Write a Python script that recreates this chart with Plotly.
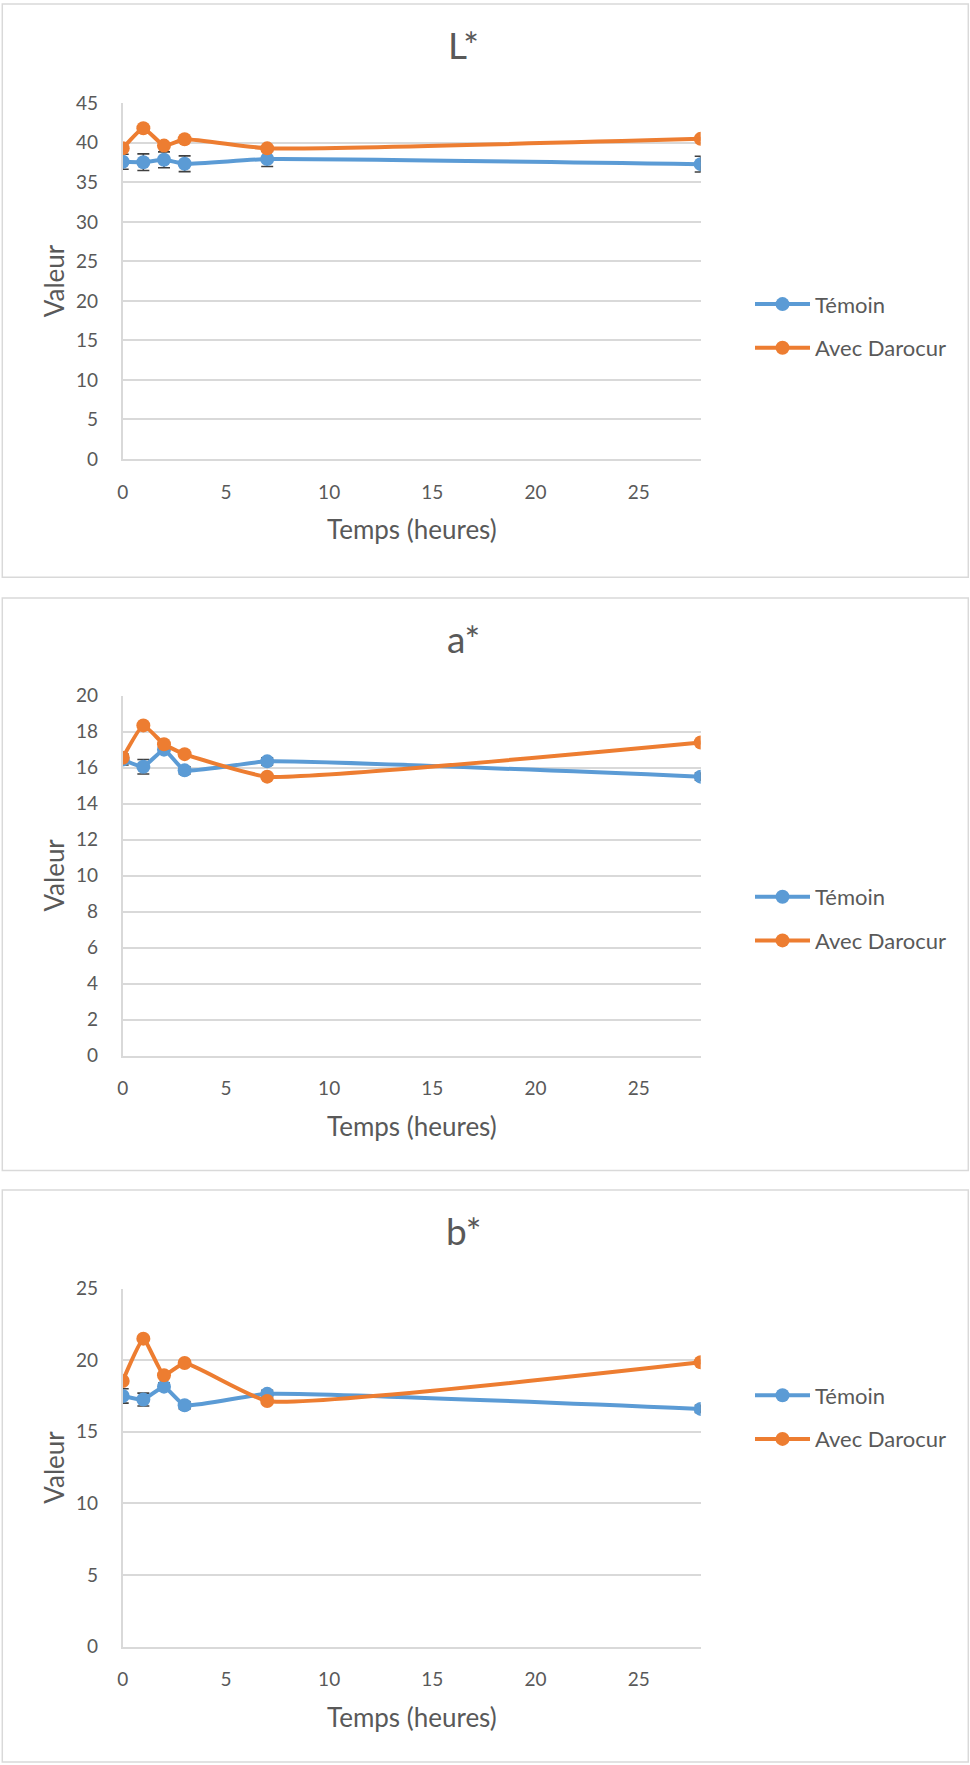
import plotly.graph_objects as go

# ---------------- data ----------------
hours = [0, 1, 2, 3, 7, 28]
series_names = ["Témoin", "Avec Darocur"]

L_temoin = [37.6, 37.55, 37.85, 37.35, 37.95, 37.3]
L_temoin_err = [0.95, 1.05, 1.0, 1.0, 0.95, 1.0]
L_darocur = [39.3, 41.85, 39.65, 40.45, 39.3, 40.5]

a_temoin = [16.45, 16.05, 17.0, 15.85, 16.35, 15.5]
a_temoin_err = [0.3, 0.4, 0.2, 0.2, 0.2, 0.2]
a_darocur = [16.55, 18.35, 17.3, 16.75, 15.5, 17.4]

b_temoin = [17.5, 17.25, 18.15, 16.85, 17.65, 16.6]
b_temoin_err = [0.5, 0.45, 0.25, 0.25, 0.25, 0.25]
b_darocur = [18.55, 21.5, 18.95, 19.8, 17.15, 19.85]

chart_titles = ["L*", "a*", "b*"]
y_max = [45, 20, 25]
y_dtick = [5, 2, 5]
x_max = 28
x_ticks = [0, 5, 10, 15, 20, 25]
x_title = "Temps (heures)"
y_title = "Valeur"

# ---------------- style / layout ----------------
W, H = 970, 1765
FONT = "Lato"
TXT = "#595959"
GRID = "#d9d9d9"
BLUE = "#5B9BD5"
ORANGE = "#ED7D31"
SMOOTH = 0.4

plot_left, plot_right = 122.7, 700.7
panels = [
    dict(ft=4.0, fb=577.3, pt=103.3, pb=459.0, leg=301.3),
    dict(ft=598.0, fb=1170.5, pt=695.7, pb=1055.5, leg=894.0),
    dict(ft=1190.0, fb=1762.0, pt=1288.5, pb=1646.8, leg=1392.5),
]

def px(x):
    return x / W

def py(y):
    return 1 - y / H

data_sets = [
    (L_temoin, L_temoin_err, L_darocur),
    (a_temoin, a_temoin_err, a_darocur),
    (b_temoin, b_temoin_err, b_darocur),
]

fig = go.Figure()
layout = dict(
    width=W, height=H, autosize=False,
    margin=dict(l=0, r=0, t=0, b=0, pad=0, autoexpand=False),
    paper_bgcolor="white", plot_bgcolor="white",
    font=dict(family=FONT, color=TXT, size=19),
    shapes=[], annotations=[],
)

for i, (p, (tem, tem_err, dar)) in enumerate(zip(panels, data_sets)):
    n = "" if i == 0 else str(i + 1)
    xa, ya = "x" + n, "y" + n
    leg = "legend" + n
    fig.add_trace(go.Scatter(
        x=hours, y=tem, name=series_names[0], xaxis=xa, yaxis=ya,
        mode="lines+markers",
        line=dict(color=BLUE, width=4, shape="spline", smoothing=SMOOTH),
        marker=dict(color=BLUE, size=14),
        error_y=dict(type="data", array=tem_err, color="#404040", thickness=1.6, width=6),
        legend=leg, legendgroup="t" + n,
    ))
    fig.add_trace(go.Scatter(
        x=hours, y=dar, name=series_names[1], xaxis=xa, yaxis=ya,
        mode="lines+markers",
        line=dict(color=ORANGE, width=4, shape="spline", smoothing=SMOOTH),
        marker=dict(color=ORANGE, size=14),
        legend=leg, legendgroup="d" + n,
    ))
    layout["xaxis" + n] = dict(
        domain=[px(plot_left), px(plot_right)], anchor=ya,
        range=[0, x_max], tickvals=x_ticks, showgrid=False,
        showline=True, linecolor=GRID, linewidth=1.5, zeroline=False,
        ticks="", ticklabelstandoff=15, tickfont=dict(size=19, color=TXT),
        automargin=False,
    )
    layout["yaxis" + n] = dict(
        domain=[py(p["pb"]), py(p["pt"])], anchor=xa,
        range=[0, y_max[i]], dtick=y_dtick[i], showgrid=True, gridcolor=GRID,
        gridwidth=1.5, showline=True, linecolor=GRID, linewidth=1.5,
        zeroline=False, ticks="", ticklabelstandoff=19,
        tickfont=dict(size=19, color=TXT), automargin=False,
    )
    layout[leg] = dict(
        x=px(750), xanchor="left", y=py(p["leg"] - 18), yanchor="top",
        bgcolor="rgba(0,0,0,0)", font=dict(size=22, color=TXT),
        tracegroupgap=12, itemwidth=55, traceorder="grouped",
    )
    # frame
    layout["shapes"].append(dict(
        type="rect", xref="paper", yref="paper",
        x0=px(2.3), x1=px(968.3), y0=py(p["fb"]), y1=py(p["ft"]),
        line=dict(color=GRID, width=1.5), fillcolor="rgba(0,0,0,0)", layer="below",
    ))
    # chart title
    layout["annotations"].append(dict(
        text=chart_titles[i], xref="paper", yref="paper",
        x=px(463), y=py(p["ft"] + 40), xanchor="center", yanchor="middle",
        showarrow=False, font=dict(size=37, color=TXT, family=FONT),
    ))
    # axis titles
    layout["annotations"].append(dict(
        text=x_title, xref="paper", yref="paper",
        x=px((plot_left + plot_right) / 2), y=py(p["pb"] + 70),
        xanchor="center", yanchor="middle", showarrow=False,
        font=dict(size=26, color=TXT, family=FONT),
    ))
    layout["annotations"].append(dict(
        text=y_title, xref="paper", yref="paper",
        x=px(54), y=py((p["pt"] + p["pb"]) / 2), textangle=-90,
        xanchor="center", yanchor="middle", showarrow=False,
        font=dict(size=26, color=TXT, family=FONT),
    ))

fig.update_layout(**layout)
fig.write_html(
    "out.html",
    config={"displayModeBar": False},
    post_script="document.body.style.margin='0';document.body.style.overflow='hidden';",
)
